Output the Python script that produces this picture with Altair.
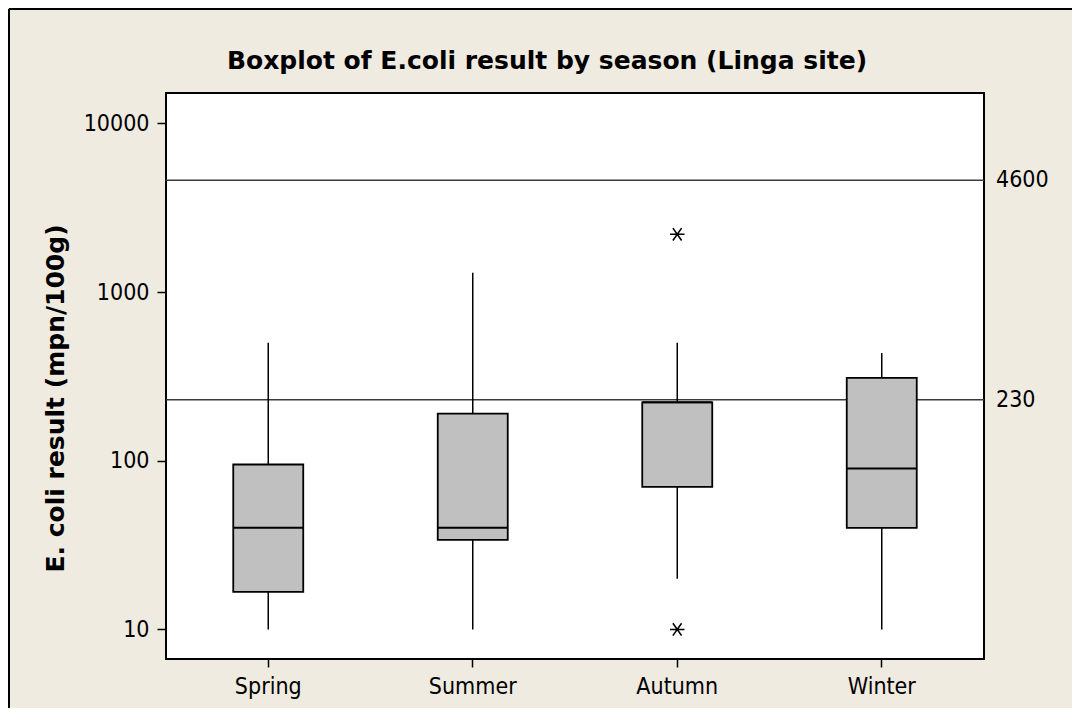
import altair as alt
import pandas as pd

seasons = ["Spring", "Summer", "Autumn", "Winter"]
whisker_low = [10, 10, 20, 10]
q1 = [16.7, 34, 70, 40]
median = [40, 40, 222, 90]
q3 = [95, 190, 222, 310]
whisker_high = [500, 1300, 500, 435]

outlier_season = ["Autumn", "Autumn"]
outlier_value = [2200, 10]

ref_values = [4600, 230]
ref_labels = ["4600", "230"]

chart_title = ["Boxplot of E.coli result by season (Linga site)"]
y_title = "E. coli result (mpn/100g)"

FONT = "DejaVu Sans Condensed, Liberation Sans, sans-serif"
TFONT = "DejaVu Sans, sans-serif"
BG = "#EFEBE1"

box_df = pd.DataFrame({
    "season": seasons, "low": whisker_low, "q1": q1,
    "median": median, "q3": q3, "high": whisker_high,
})
out_df = pd.DataFrame({"season": outlier_season, "value": outlier_value})
ref_df = pd.DataFrame({"value": ref_values, "label": ref_labels})
title_df = pd.DataFrame({"title": chart_title})

yscale = alt.Scale(type="log", domain=[6.68, 15130], nice=False)
xscale = alt.Scale(domain=seasons, paddingInner=0, paddingOuter=0)

x_enc = alt.X("season:N", scale=xscale, sort=seasons,
              axis=alt.Axis(title=None, labelAngle=0, labelFontSize=23,
                            labelPadding=8, tickSize=8))
y_axis = alt.Axis(title=y_title, values=[10, 100, 1000, 10000],
                  format="d", labelFontSize=23, labelPadding=8, tickSize=9,
                  titleFontSize=25, titleFontWeight="bold", titleFont=TFONT,
                  titleY=305, titleX=-103, titleAngle=-90, titleAlign="center",
                  titleBaseline="alphabetic")

base = alt.Chart(box_df)

refline = alt.Chart(ref_df).mark_rule(color="#3a3a3a", strokeWidth=1.6).encode(
    y=alt.Y("value:Q", scale=yscale, axis=y_axis)
)
reflabel = alt.Chart(ref_df).mark_text(
    align="left", baseline="middle", font=FONT, fontSize=23, color="black"
).encode(
    x=alt.value(830),
    y=alt.Y("value:Q", scale=yscale),
    text="label:N",
)

whisker = base.mark_rule(color="black", strokeWidth=1.5).encode(
    x=x_enc,
    y=alt.Y("low:Q", scale=yscale),
    y2="high:Q",
)
box = base.mark_bar(size=70, fill="#C0C0C0", stroke="black", strokeWidth=1.8).encode(
    x=x_enc,
    y=alt.Y("q1:Q", scale=yscale),
    y2="q3:Q",
)
med = base.mark_tick(color="black", size=70, thickness=2, opacity=1).encode(
    x=x_enc,
    y=alt.Y("median:Q", scale=yscale),
)
outl = alt.Chart(out_df).mark_point(
    shape="M-1,0L1,0M-0.6,-0.85L0.6,0.85M-0.6,0.85L0.6,-0.85",
    filled=False, stroke="black", strokeWidth=1.6, size=210, opacity=1,
).encode(
    x=alt.X("season:N", scale=xscale, sort=seasons),
    y=alt.Y("value:Q", scale=yscale),
)

title_mark = alt.Chart(title_df).mark_text(
    font=TFONT, fontSize=25, fontWeight="bold", color="black",
    align="center", baseline="alphabetic",
).encode(
    x=alt.value(381), y=alt.value(-24), text="title:N"
)

frame_left = alt.Chart(title_df).mark_rule(color="black", strokeWidth=2).encode(
    x=alt.value(-157), y=alt.value(-84), y2=alt.value(620)
)
frame_top = alt.Chart(title_df).mark_rule(color="black", strokeWidth=2).encode(
    x=alt.value(-157), x2=alt.value(910), y=alt.value(-84)
)

chart = alt.layer(
    refline, whisker, box, med, outl, reflabel, title_mark, frame_left, frame_top
).properties(
    width=818,
    height=566,
    padding={"left": 158, "top": 85, "right": 88, "bottom": 49},
    autosize=alt.AutoSizeParams(type="none"),
    background=BG,
).configure_view(
    stroke="black", strokeWidth=2, fill="white"
).configure_axis(
    labelFont=FONT, labelColor="black", tickColor="black", tickWidth=1.5,
    domain=False, grid=False, titleColor="black",
)

chart.save("out.html", embed_options={"renderer": "svg", "actions": False})
